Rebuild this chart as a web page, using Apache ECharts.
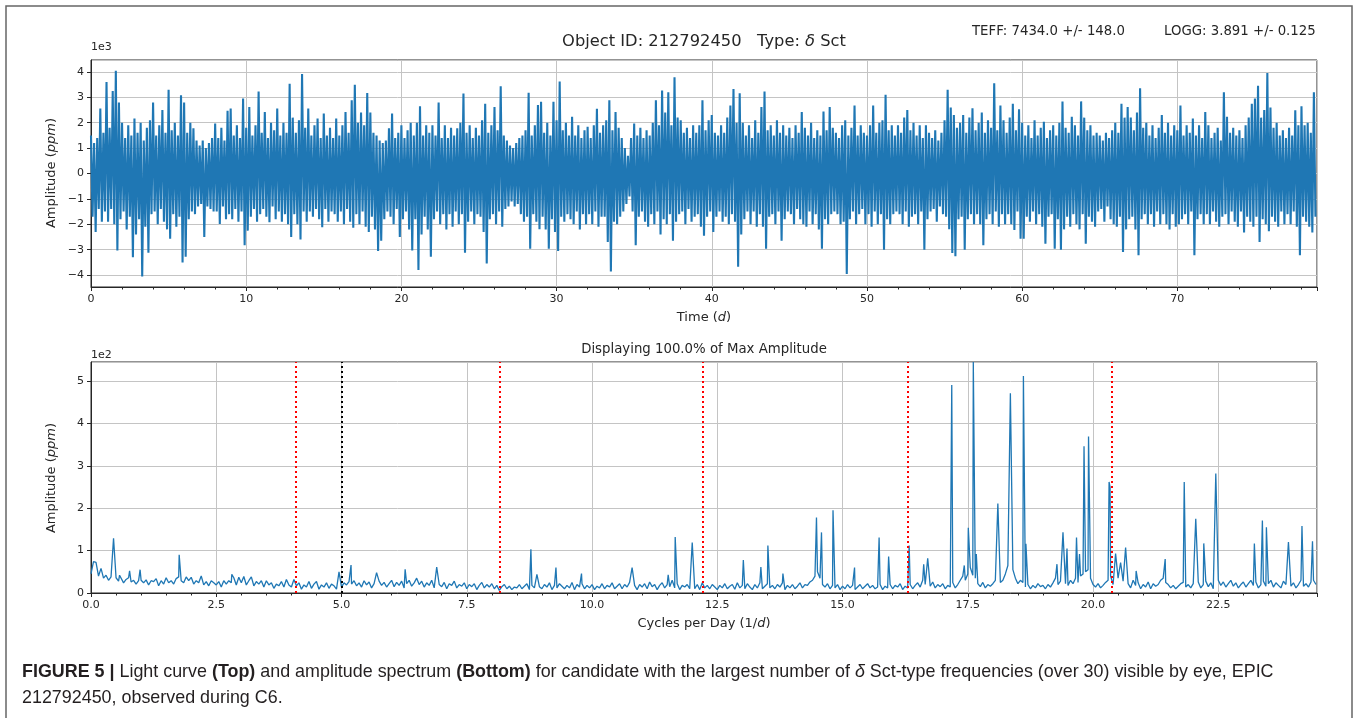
<!DOCTYPE html>
<html><head><meta charset="utf-8">
<style>html,body{margin:0;padding:0;background:#fff}#chart{width:1358px;height:718px}</style>
<script src="https://cdn.jsdelivr.net/npm/echarts/dist/echarts.min.js"></script>
</head><body><div id="chart"></div>
<script>
// ---------- Light curve (units of 1e3 ppm), envelope per 0.2 d bin ----------
const lcStep = 0.2;
const lcHigh = [
1.5,1.2,1.4,2.56,1.6, 3.6,1.8,3.25,4.05,2.8, 2.0,1.4,1.9,1.5,2.17, 1.6,2.0,1.3,1.8,2.1, 2.8,1.5,1.9,2.5,1.6,
3.3,1.7,2.0,1.5,3.08, 2.8,1.6,2.0,1.78,1.3, 1.1,1.3,1.0,1.2,1.4, 1.97,1.4,1.8,1.3,2.47, 2.56,1.5,1.9,1.4,2.95,
1.8,2.62,1.5,1.9,3.23, 1.6,2.42,1.4,2.0,1.7, 2.56,1.5,2.0,1.6,3.53, 2.2,1.6,2.1,3.92,1.8, 2.56,1.5,1.9,2.17,1.4,
2.36,1.5,1.8,1.4,2.17, 1.5,1.9,2.42,1.6,2.88, 3.49,2.0,2.4,1.9,3.17, 2.4,1.6,1.5,1.3,1.2, 1.3,1.78,2.36,1.4,1.6,
1.9,1.4,1.7,2.0,1.5, 2.0,2.65,1.5,1.9,1.6, 1.9,1.5,2.8,1.4,1.9, 1.4,1.8,1.5,1.78,2.0, 3.15,1.6,1.9,1.4,1.8,
1.5,2.1,2.75,1.6,1.9, 2.62,1.7,3.44,1.5,1.3, 1.1,1.0,1.2,1.4,1.5, 1.7,3.18,1.5,1.9,2.7, 2.83,1.6,2.0,1.5,2.83,
2.1,3.62,1.7,2.0,1.5, 2.23,1.5,1.9,1.4,1.7, 1.84,1.4,1.9,2.55,1.6, 1.9,2.1,2.88,1.7,2.42, 1.8,1.4,1.0,0.7,1.4,
1.97,1.5,1.8,1.4,1.7, 1.5,2.0,2.88,1.9,3.27, 2.4,3.2,1.9,3.79,2.2, 2.1,1.6,1.8,1.4,1.9, 1.6,1.9,2.88,1.7,2.1,
2.3,1.6,1.5,1.9,1.6, 2.2,2.68,3.33,2.0,3.16, 2.0,1.5,1.9,1.4,2.1, 1.6,2.62,3.23,1.7,1.9, 1.5,2.1,1.6,1.9,1.5,
1.8,1.4,1.9,1.6,2.42, 1.8,1.5,2.0,1.4,1.7, 1.5,2.44,1.7,2.62,1.8, 1.6,1.4,1.9,2.1,1.5, 1.8,2.68,1.5,1.9,1.6,
1.5,1.9,2.68,1.6,2.0, 2.1,3.1,1.7,1.9,1.5, 1.9,1.6,2.2,2.5,1.7, 2.0,1.5,1.9,1.4,1.9, 1.6,1.4,1.7,1.3,1.6,
2.1,3.3,2.6,2.3,1.8, 2.0,2.3,1.6,2.2,2.57, 1.7,2.0,2.4,1.6,2.1, 1.8,3.55,1.7,2.68,2.1, 1.6,2.2,2.75,1.7,2.53,
2.0,1.5,1.9,1.4,2.1, 1.5,1.8,2.04,1.4,1.7, 1.9,1.5,2.0,2.84,1.8, 1.6,2.23,1.9,1.5,2.84, 2.2,1.7,1.9,1.5,1.6,
1.5,1.3,1.6,1.4,1.7, 2.0,1.6,2.75,2.2,2.62, 2.2,1.7,2.4,3.36,1.8, 2.0,1.5,1.9,1.4,1.8, 2.3,1.6,2.0,1.5,1.9,
1.7,2.68,1.5,1.9,1.6, 2.17,1.5,1.9,1.4,2.42, 1.9,1.4,1.6,1.8,1.3, 3.2,2.23,1.6,1.8,1.5, 1.7,1.4,1.9,2.2,2.75,
2.95,3.46,2.2,2.5,3.96, 2.6,1.8,2.0,1.5,1.7, 1.4,1.8,1.5,2.49,1.9, 2.65,1.9,2.0,1.6,3.2
];
const lcLow = [
-1.7,-2.3,-1.4,-1.9,-1.5, -1.9,-1.4,-2.0,-3.03,-1.8, -1.5,-2.2,-1.7,-3.3,-2.4, -1.8,-4.06,-2.1,-3.12,-1.6, -1.5,-2.0,-1.4,-1.9,-2.2,
-2.57,-1.6,-2.1,-1.7,-3.5, -3.28,-1.8,-1.5,-1.6,-1.3, -1.2,-2.5,-1.3,-1.4,-1.5, -1.5,-1.99,-1.3,-1.8,-1.6, -1.8,-1.4,-1.9,-1.5,-2.83,
-2.25,-1.7,-1.4,-1.9,-1.6, -1.4,-1.7,-1.92,-1.3,-1.8, -1.5,-1.9,-1.6,-2.0,-2.5, -1.6,-2.0,-2.6,-1.5,-1.9, -1.5,-1.7,-1.4,-1.8,-2.12,
-1.4,-1.9,-1.5,-1.6,-1.9, -1.5,-2.0,-1.4,-1.9,-2.14, -1.6,-2.0,-1.5,-2.1,-2.3, -1.7,-2.2,-3.05,-2.65,-1.8, -1.5,-1.7,-2.0,-1.4,-2.5,
-1.8,-1.5,-2.2,-3.03,-1.8, -3.8,-2.4,-1.7,-2.2,-3.28, -1.8,-1.5,-2.0,-1.6,-2.2, -1.6,-2.1,-1.5,-2.0,-1.6, -3.12,-1.9,-1.5,-2.0,-1.6,
-1.7,-2.3,-3.54,-1.8,-1.6, -2.0,-1.5,-2.1,-1.4,-1.3, -1.1,-1.3,-1.2,-1.6,-1.9, -1.7,-2.96,-1.6,-1.9,-2.2, -1.7,-2.2,-2.96,-1.8,-2.3,
-3.05,-1.7,-1.9,-1.6,-1.8, -2.0,-1.5,-2.2,-1.6,-2.0, -1.6,-2.0,-1.5,-2.1,-1.7, -1.7,-2.7,-3.86,-1.9,-2.0, -1.7,-1.5,-1.2,-0.9,-1.5,
-2.83,-1.7,-1.5,-1.9,-2.1, -1.6,-2.0,-1.5,-2.4,-1.8, -2.0,-1.6,-2.65,-1.9,-1.6, -1.5,-2.0,-1.4,-1.9,-1.7, -1.6,-2.1,-2.45,-1.7,-1.5,
-2.3,-1.7,-1.5,-1.9,-1.7, -2.0,-1.6,-1.9,-3.67,-2.4, -1.8,-1.5,-2.0,-1.5,-2.1, -1.6,-2.1,-2.96,-1.7,-1.6, -2.0,-1.5,-2.65,-1.8,-1.5,
-1.6,-2.0,-1.4,-1.8,-2.0, -2.1,-1.5,-2.0,-1.6,-2.2, -2.96,-1.8,-2.0,-1.6,-1.5, -1.6,-2.0,-1.9,-3.96,-1.8, -1.5,-2.0,-1.6,-1.4,-2.0,
-1.6,-2.1,-1.5,-2.0,-1.6, -3.0,-1.8,-2.0,-1.6,-1.5, -1.6,-2.0,-1.5,-2.1,-1.7, -1.6,-2.0,-1.5,-3.0,-1.8, -1.5,-1.4,-1.9,-1.3,-1.6,
-1.7,-2.2,-3.13,-3.26,-1.8, -1.7,-3.0,-1.8,-1.6,-2.0, -1.6,-2.0,-2.83,-1.8,-1.6, -2.0,-1.5,-2.1,-1.6,-2.0, -1.6,-2.0,-2.22,-1.5,-2.57,
-2.57,-1.7,-1.9,-1.5,-2.0, -1.6,-2.1,-2.77,-1.7,-1.6, -2.96,-1.8,-3.0,-2.2,-1.7, -2.1,-1.6,-2.0,-2.2,-1.6, -2.77,-1.7,-1.9,-2.1,-1.5,
-1.4,-1.9,-1.3,-1.8,-2.0, -2.1,-1.7,-3.09,-2.2,-1.8, -1.7,-2.2,-3.22,-1.8,-1.6, -2.0,-1.6,-2.1,-1.5,-2.0, -1.6,-2.0,-2.2,-1.6,-2.1,
-2.0,-1.8,-1.6,-2.0,-1.5, -3.22,-1.8,-1.6,-2.0,-1.6, -2.0,-1.5,-1.9,-2.1,-1.7, -1.6,-2.0,-1.5,-1.9,-2.1, -1.5,-2.32,-1.7,-1.9,-2.1,
-1.7,-2.7,-1.8,-2.0,-2.27, -1.7,-1.9,-2.1,-1.5,-2.0, -1.6,-2.0,-1.5,-2.1,-3.22, -1.7,-1.9,-2.1,-2.32,-1.7
];
const lcTimeMax = 79.0;
const lcAmpLimit = 4.47;
const lcTimeTickStep = 10;

// ---------- Amplitude spectrum (units of 1e2 ppm) ----------
const specStep = 0.05;
const specBaseline = [
0.45,0.62,0.55,0.40,0.48,0.35,0.42,0.30,0.38,0.33, 0.36,0.28,0.40,0.24,0.32,0.36,0.26,0.30,0.21,0.29,
0.30,0.24,0.31,0.19,0.29,0.27,0.34,0.17,0.29,0.21, 0.36,0.24,0.29,0.21,0.34,0.38,0.29,0.24,0.38,0.29,
0.37,0.21,0.29,0.24,0.40,0.19,0.27,0.17,0.29,0.24, 0.19,0.27,0.14,0.29,0.21,0.29,0.24,0.36,0.19,0.37,
0.24,0.39,0.19,0.29,0.38,0.17,0.27,0.21,0.29,0.14, 0.29,0.19,0.24,0.11,0.21,0.17,0.27,0.14,0.32,0.19,
0.14,0.32,0.17,0.24,0.09,0.19,0.14,0.27,0.11,0.21, 0.27,0.09,0.19,0.14,0.24,0.11,0.21,0.17,0.09,0.28,
0.14,0.24,0.19,0.27,0.21,0.29,0.17,0.24,0.14,0.29, 0.19,0.26,0.12,0.22,0.38,0.28,0.18,0.25,0.14,0.22,
0.30,0.15,0.25,0.18,0.28,0.12,0.22,0.30,0.16,0.24, 0.35,0.20,0.28,0.14,0.24,0.18,0.30,0.12,0.26,0.20,
0.15,0.25,0.10,0.22,0.18,0.28,0.12,0.20,0.16,0.24, 0.10,0.20,0.15,0.22,0.08,0.18,0.25,0.12,0.20,0.14,
0.22,0.10,0.18,0.06,0.15,0.20,0.10,0.16,0.08,0.14, 0.12,0.20,0.10,0.16,0.22,0.08,0.18,0.12,0.20,0.15,
0.10,0.20,0.14,0.24,0.08,0.18,0.12,0.22,0.16,0.10, 0.18,0.12,0.25,0.08,0.20,0.14,0.22,0.10,0.18,0.12,
0.20,0.08,0.16,0.12,0.22,0.10,0.18,0.14,0.24,0.10, 0.16,0.22,0.10,0.20,0.14,0.25,0.12,0.18,0.08,0.20,
0.14,0.22,0.10,0.26,0.15,0.20,0.08,0.18,0.24,0.12, 0.20,0.15,0.30,0.12,0.22,0.08,0.18,0.14,0.20,0.10,
0.16,0.10,0.20,0.08,0.24,0.12,0.18,0.10,0.20,0.14, 0.08,0.18,0.12,0.22,0.10,0.16,0.20,0.09,0.24,0.12,
0.18,0.10,0.22,0.14,0.08,0.20,0.12,0.24,0.10,0.16, 0.22,0.12,0.18,0.10,0.20,0.14,0.24,0.08,0.18,0.12,
0.20,0.10,0.16,0.24,0.12,0.20,0.18,0.26,0.30,0.40, 0.50,0.35,0.20,0.14,0.22,0.10,0.18,0.12,0.20,0.08,
0.16,0.10,0.20,0.12,0.18,0.08,0.14,0.20,0.10,0.16, 0.22,0.12,0.18,0.10,0.14,0.20,0.08,0.16,0.12,0.20,
0.10,0.18,0.14,0.22,0.08,0.16,0.12,0.20,0.10,0.18, 0.24,0.14,0.30,0.20,0.35,0.16,0.26,0.12,0.20,0.15,
0.22,0.10,0.18,0.14,0.25,0.12,0.20,0.30,0.40,0.30, 0.45,0.60,0.42,0.35,0.22,0.15,0.25,0.12,0.20,0.16,
0.22,0.30,0.18,0.25,0.30,0.45,0.65,0.85,0.55,0.35, 0.22,0.30,0.25,0.14,0.20,0.10,0.18,0.12,0.22,0.15,
0.18,0.10,0.20,0.14,0.24,0.35,0.20,0.28,0.30,0.22, 0.18,0.30,0.22,0.35,0.25,0.40,0.45,0.50,0.55,0.35,
0.20,0.14,0.22,0.12,0.18,0.25,0.30,0.40,0.20,0.30, 0.35,0.20,0.28,0.14,0.22,0.12,0.30,0.18,0.24,0.10,
0.20,0.14,0.26,0.10,0.22,0.16,0.20,0.30,0.35,0.25, 0.20,0.12,0.18,0.10,0.16,0.22,0.25,0.14,0.20,0.12,
0.22,0.16,0.26,0.12,0.20,0.28,0.15,0.24,0.10,0.20, 0.30,0.18,0.26,0.14,0.22,0.30,0.16,0.24,0.12,0.20,
0.26,0.14,0.22,0.30,0.18,0.26,0.12,0.20,0.28,0.16, 0.22,0.30,0.14,0.24,0.18,0.12,0.28,0.20,0.30,0.16,
0.24,0.12,0.20,0.30,0.16,0.22,0.14,0.26,0.30,0.20
];
const specPeaks = [
[0.05,0.74],[0.10,0.72],[0.20,0.58],[0.45,1.29],[0.57,0.42],[0.77,0.52],[0.98,0.55],[1.76,0.90],
[2.81,0.44],[4.95,0.50],[5.19,0.66],[5.70,0.48],[6.27,0.56],[6.90,0.61],[8.78,1.03],[8.90,0.44],
[9.28,0.60],[9.79,0.46],[10.80,0.60],[11.52,0.43],[11.66,1.32],[12.00,1.19],[13.02,0.78],[13.37,0.61],
[13.51,1.12],[13.81,0.46],[14.48,1.78],[14.58,1.43],[14.81,1.95],[15.24,0.60],[15.73,1.31],[15.92,0.86],
[16.33,1.12],[16.62,0.68],[16.70,0.82],[17.18,4.91],[17.43,0.65],[17.51,1.54],[17.61,5.45],[17.67,0.92],
[18.10,2.11],[18.35,4.71],[18.61,5.12],[18.66,1.16],[19.28,0.68],[19.40,1.43],[19.48,1.05],[19.67,1.31],
[19.73,0.92],[19.82,3.46],[19.91,3.69],[20.32,2.62],[20.34,2.50],[20.45,0.93],[20.55,0.72],[20.65,1.07],
[20.86,0.52],[21.44,0.80],[21.82,2.62],[22.05,1.75],[22.21,1.17],[22.45,2.82],[23.22,1.17],[23.38,1.71],
[23.46,1.55],[23.90,1.20],[24.17,1.58],[24.38,1.22]
];
const specFreqMax = 24.47;
const specAmpMax = 5.45;
const specFreqTickStep = 2.5;
const thrusterFreqs = [4.075, 8.149, 12.224, 16.298, 20.373];
const referenceFreqs = [5.0];

// ---------- build series data ----------
const lcData = [];
const nBins = Math.min(lcHigh.length, lcLow.length);
for (let i = 0; i < nBins; i++) {
  lcData.push([+(i * lcStep).toFixed(3), lcHigh[i]]);
  lcData.push([+(i * lcStep + lcStep / 2).toFixed(3), lcLow[i]]);
}
const peakKeys = new Set(specPeaks.map(p => p[0].toFixed(3)));
const specData = specBaseline.map((v, i) => [+(i * specStep).toFixed(3), v])
  .filter(p => !peakKeys.has(p[0].toFixed(3)))
  .concat(specPeaks.map(p => [p[0], p[1]]))
  .sort((a, b) => a[0] - b[0]);

const FONT = "'DejaVu Sans', 'Liberation Sans', sans-serif";
const CAPFONT = "'Liberation Sans', Arial, sans-serif";
const INK = '#262626';
const GRIDC = '#c4c4c4';
const BLUE = '#1f77b4';
const minus = v => (v < 0 ? '\u2212' + (-v) : String(v));

function xAxisBase(gridIndex, max, step, fmt) {
  return {
    type: 'value', gridIndex, min: 0, max, interval: step,
    axisLine: { show: true, onZero: false, lineStyle: { color: INK, width: 1 } },
    axisTick: { show: true, length: 4, lineStyle: { color: INK } },
    minorTick: { show: true, splitNumber: 5, length: 2.5, lineStyle: { color: INK } },
    splitLine: { show: true, lineStyle: { color: GRIDC, width: 1 } },
    axisLabel: { color: INK, fontFamily: FONT, fontSize: 11, margin: 7, showMaxLabel: false,
      formatter: fmt }
  };
}
function yAxisBase(gridIndex, min, max) {
  return {
    type: 'value', gridIndex, min, max, minInterval: 1, maxInterval: 1,
    axisLine: { show: true, onZero: false, lineStyle: { color: INK, width: 1 } },
    axisTick: { show: true, length: 4, lineStyle: { color: INK } },
    splitLine: { show: true, lineStyle: { color: GRIDC, width: 1 } },
    axisLabel: { color: INK, fontFamily: FONT, fontSize: 11, margin: 7,
      showMinLabel: min === 0, showMaxLabel: false,
      formatter: v => (Math.abs(v - Math.round(v)) < 1e-6 ? minus(Math.round(v)) : '') }
  };
}

function txt(x, y, text, size, opts) {
  opts = opts || {};
  const fam = opts.family || FONT;
  return {
    type: 'text', x, y, rotation: opts.rotation || 0, silent: true, z: 100,
    style: {
      text, fill: opts.fill || INK, fontSize: size, fontFamily: fam,
      fontWeight: opts.weight || 'normal',
      textAlign: opts.align || 'center', textVerticalAlign: 'middle',
      rich: {
        i: { fontStyle: 'italic', fontSize: size, fontFamily: fam, fill: opts.fill || INK },
        b: { fontWeight: 'bold', fontSize: size, fontFamily: fam, fill: opts.fill || INK }
      }
    }
  };
}

const option = {
  animation: false,
  backgroundColor: '#ffffff',
  grid: [
    { left: 91, top: 60, width: 1226, height: 227, show: true, borderColor: INK, borderWidth: 1, backgroundColor: '#fff' },
    { left: 91, top: 362, width: 1226, height: 231, show: true, borderColor: INK, borderWidth: 1, backgroundColor: '#fff' }
  ],
  xAxis: [
    xAxisBase(0, lcTimeMax, lcTimeTickStep, v => (v % lcTimeTickStep === 0 ? String(v) : '')),
    xAxisBase(1, specFreqMax, specFreqTickStep, v => (Math.abs(v / specFreqTickStep - Math.round(v / specFreqTickStep)) < 1e-6 ? v.toFixed(1) : ''))
  ],
  yAxis: [
    yAxisBase(0, -lcAmpLimit, lcAmpLimit),
    yAxisBase(1, 0, specAmpMax)
  ],
  series: [
    { type: 'line', xAxisIndex: 0, yAxisIndex: 0, data: lcData, showSymbol: false, symbol: 'none',
      lineStyle: { color: BLUE, width: 2.1 }, sampling: null, silent: true, z: 3 },
    { type: 'line', xAxisIndex: 1, yAxisIndex: 1, data: specData, showSymbol: false, symbol: 'none',
      lineStyle: { color: BLUE, width: 1.3 }, silent: true, z: 3,
      markLine: {
        silent: true, symbol: ['none', 'none'], label: { show: false },
        lineStyle: { type: [2, 3], width: 2 },
        data: thrusterFreqs.map(f => ({ xAxis: f, lineStyle: { color: '#ff0000', type: [2, 3], width: 2 } }))
          .concat(referenceFreqs.map(f => ({ xAxis: f, lineStyle: { color: '#000000', type: [2, 3], width: 2 } })))
      } }
  ],
  graphic: [
    { type: 'rect', silent: true, z: 0, shape: { x: 6, y: 6, width: 1346, height: 740 },
      style: { fill: 'none', stroke: '#666', lineWidth: 1.5 } },
    txt(704, 42, 'Object ID: 212792450   Type: {i|\u03b4} Sct', 16.3),
    txt(972, 32, 'TEFF: 7434.0 +/- 148.0', 13.3, { align: 'left' }),
    txt(1164, 32, 'LOGG: 3.891 +/- 0.125', 13.3, { align: 'left' }),
    txt(91, 47, '1e3', 11, { align: 'left' }),
    txt(704, 318, 'Time ({i|d})', 13),
    txt(52, 173, 'Amplitude ({i|ppm})', 13, { rotation: Math.PI / 2 }),
    txt(704, 350, 'Displaying 100.0% of Max Amplitude', 13.3),
    txt(91, 355, '1e2', 11, { align: 'left' }),
    txt(704, 624, 'Cycles per Day (1/{i|d})', 13),
    txt(52, 478, 'Amplitude ({i|ppm})', 13, { rotation: Math.PI / 2 }),
    txt(22, 672, '{b|FIGURE 5 |} Light curve {b|(Top)} and amplitude spectrum {b|(Bottom)} for candidate with the largest number of {i|\u03b4} Sct-type frequencies (over 30) visible by eye, EPIC', 17.9, { align: 'left', family: CAPFONT, fill: '#231f20' }),
    txt(22, 698, '212792450, observed during C6.', 17.9, { align: 'left', family: CAPFONT, fill: '#231f20' })
  ]
};

const chart = echarts.init(document.getElementById('chart'), null, { renderer: 'canvas' });
chart.setOption(option);
</script>
</body></html>
